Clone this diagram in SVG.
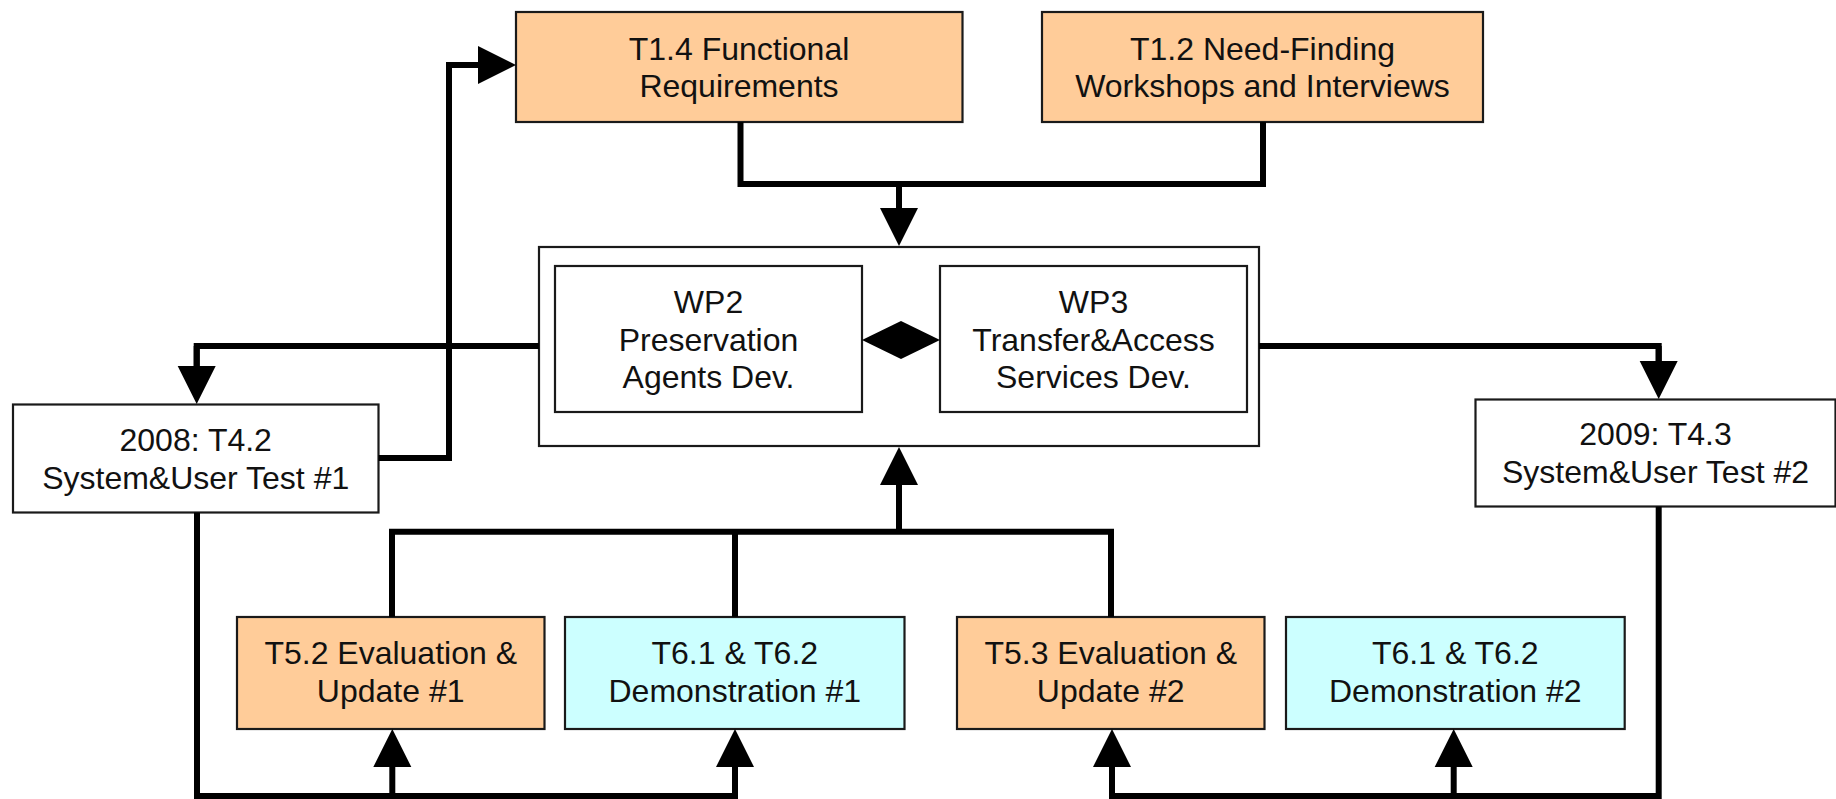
<svg xmlns="http://www.w3.org/2000/svg" width="1836" height="799" viewBox="0 0 1836 799">
<style>
.box{stroke:#1a1a1a;stroke-width:2.2}
.w{fill:#ffffff}
.o{fill:#ffcc99}
.c{fill:#ccffff}
.t{font-family:"Liberation Sans",Arial,sans-serif;font-size:32px;fill:#111;text-anchor:middle}
.ln{fill:none;stroke:#000;stroke-width:6;stroke-linejoin:miter}
.ar{fill:none;stroke:#000;stroke-width:6;marker-end:url(#ah)}
</style>
<defs>
<marker id="ah" markerUnits="userSpaceOnUse" markerWidth="40" markerHeight="40" refX="0" refY="19" orient="auto" overflow="visible">
<path d="M0,0 L38,19 L0,38 Z" fill="#000"/>
</marker>
</defs>
<rect x="0" y="0" width="1836" height="799" fill="#ffffff"/>
<g id="t14">
<rect class="box o" x="516" y="12" width="446.5" height="110"/>
<text class="t"><tspan x="739" y="60">T1.4 Functional</tspan><tspan x="739" y="97">Requirements</tspan></text>
</g>
<g id="t12">
<rect class="box o" x="1042" y="12" width="441" height="110"/>
<text class="t"><tspan x="1262.5" y="60">T1.2 Need-Finding</tspan><tspan x="1262.5" y="97">Workshops and Interviews</tspan></text>
</g>
<g id="wpcontainer">
<rect class="box w" x="539" y="247" width="720" height="199"/>
</g>
<g id="wp2">
<rect class="box w" x="555" y="266" width="307" height="146"/>
<text class="t"><tspan x="708.5" y="313">WP2</tspan><tspan x="708.5" y="351">Preservation</tspan><tspan x="708.5" y="388">Agents Dev.</tspan></text>
</g>
<g id="wp3">
<rect class="box w" x="940" y="266" width="307" height="146"/>
<text class="t"><tspan x="1093.5" y="313">WP3</tspan><tspan x="1093.5" y="351">Transfer&amp;Access</tspan><tspan x="1093.5" y="388">Services Dev.</tspan></text>
</g>
<g id="t42">
<rect class="box w" x="13" y="404.5" width="365.5" height="108"/>
<text class="t"><tspan x="195.7" y="450.5">2008: T4.2</tspan><tspan x="195.7" y="488.5">System&amp;User Test #1</tspan></text>
</g>
<g id="t43">
<rect class="box w" x="1475.5" y="399.5" width="360" height="107"/>
<text class="t"><tspan x="1655.5" y="445">2009: T4.3</tspan><tspan x="1655.5" y="483">System&amp;User Test #2</tspan></text>
</g>
<g id="t52">
<rect class="box o" x="237" y="617" width="307.5" height="112"/>
<text class="t"><tspan x="390.7" y="664">T5.2 Evaluation &amp;</tspan><tspan x="390.7" y="702">Update #1</tspan></text>
</g>
<g id="t61a">
<rect class="box c" x="565" y="617" width="339.5" height="112"/>
<text class="t"><tspan x="734.8" y="664">T6.1 &amp; T6.2</tspan><tspan x="734.8" y="702">Demonstration #1</tspan></text>
</g>
<g id="t53">
<rect class="box o" x="957" y="617" width="307.5" height="112"/>
<text class="t"><tspan x="1110.7" y="664">T5.3 Evaluation &amp;</tspan><tspan x="1110.7" y="702">Update #2</tspan></text>
</g>
<g id="t61b">
<rect class="box c" x="1286" y="617" width="338.7" height="112"/>
<text class="t"><tspan x="1455.3" y="664">T6.1 &amp; T6.2</tspan><tspan x="1455.3" y="702">Demonstration #2</tspan></text>
</g>
<g id="connectors">
<path class="ln" d="M740.5,122 V184 H1263 V122"/>
<path class="ar" d="M899,184 V208"/>
<path class="ln" d="M539,346 H196.7 V366"/>
<path class="ar" d="M196.7,346 V366"/>
<path class="ln" d="M378.5,458 H449 V65 H478"/>
<path class="ar" d="M449,65 H478"/>
<path class="ln" d="M1259,346 H1658.7 V361"/>
<path class="ar" d="M1658.7,346 V361"/>
<path class="ln" d="M197,512.5 V796 H735 V767"/>
<path class="ar" d="M392.3,796 V767"/>
<path class="ar" d="M735,796 V767"/>
<path class="ln" d="M1658.7,506.5 V796 H1112 V767"/>
<path class="ar" d="M1112,796 V767"/>
<path class="ar" d="M1453.7,796 V767"/>
<path class="ln" d="M392,617 V531.7 H1111 V617"/>
<path class="ln" d="M735,617 V531.7"/>
<path class="ar" d="M899,531.7 V485"/>
<polygon points="862,340 901,321 940,340 901,359" fill="#000"/>
</g>
</svg>
